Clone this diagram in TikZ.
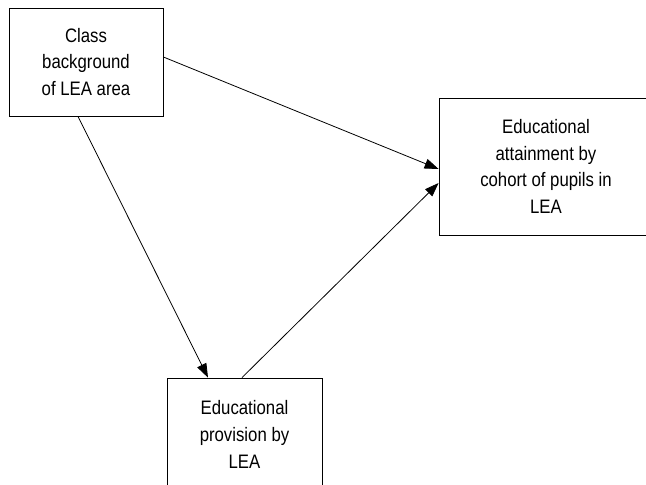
\documentclass[tikz,border=0pt]{standalone}
\usepackage{fontspec}
\setmainfont[FakeStretch=0.86]{Liberation Sans}
\usetikzlibrary{arrows.meta}
\begin{document}
\begin{tikzpicture}[x=1pt,y=-1pt,
  factor/.style={draw, line width=0.8pt, align=center, inner sep=0pt,
    font=\fontsize{19.5pt}{26.7pt}\selectfont},
  link/.style={line width=0.8pt, -{Triangle[length=14pt,width=10pt]}}]
  \useasboundingbox (0,0) rectangle (646,485);
  \clip (0,0) rectangle (646,485);
  \fill[white] (0,0) rectangle (646,485);

  \node[factor, minimum width=154pt, minimum height=108pt] (cls) at (86,62)
    {Class\\background\\of LEA area};
  \node[factor, minimum width=214pt, minimum height=137pt] (att) at (546,166.5)
    {Educational\\attainment by\\cohort of pupils in\\LEA};
  \node[factor, minimum width=155pt, minimum height=113pt] (prov) at (244.5,434.5)
    {Educational\\provision by\\LEA};

  \draw[link] ([yshift=5pt]cls.east) -- ([yshift=-2.5pt]att.west);
  \draw[link] ([xshift=-8pt]cls.south) -- ([xshift=-36.5pt]prov.north);
  \draw[link] ([xshift=-2.5pt]prov.north) -- ([yshift=-16.5pt]att.west);
\end{tikzpicture}
\end{document}
